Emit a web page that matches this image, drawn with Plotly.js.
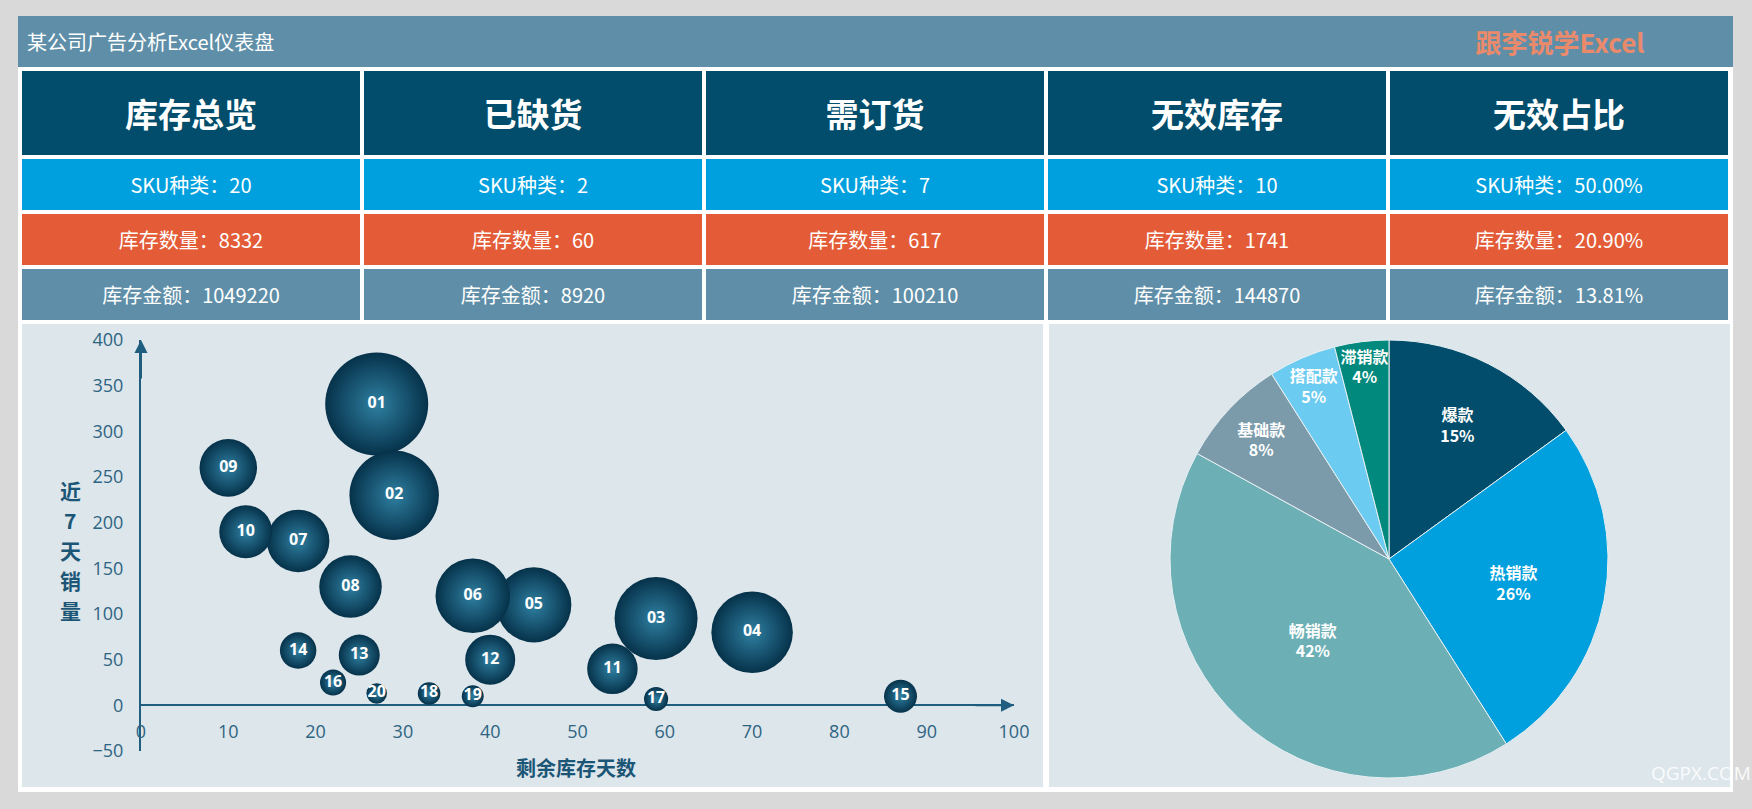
<!DOCTYPE html>
<html><head><meta charset="utf-8">
<script src="https://cdn.plot.ly/plotly-3.0.1.min.js"></script>
<style>
html,body{margin:0;padding:0;}
body{width:1752px;height:809px;background:#d9d9d9;position:relative;overflow:hidden;font-family:"Noto Sans CJK SC","Noto Sans",sans-serif;}
.abs{position:absolute;}
.cell{position:absolute;display:flex;align-items:center;justify-content:center;color:#fff;white-space:nowrap;}
</style></head>
<body>
<div class="abs" style="left:18px;top:16px;width:1715px;height:776px;background:#fff;"></div>
<div class="abs" style="left:18px;top:16px;width:1715px;height:51px;background:#5f8fa8;"></div>
<div class="abs" id="titleL" style="left:27px;top:16px;height:51px;line-height:51px;color:#fff;font-size:20px;"></div>
<div class="abs" id="titleR" style="left:1450px;width:220px;top:16px;height:51px;line-height:51px;color:#ea8a6b;font-size:26px;font-weight:bold;text-align:center;"></div>
<div id="cards"></div>
<div class="abs" id="bubble" style="left:22px;top:324px;width:1021px;height:463px;"></div>
<div class="abs" id="pie" style="left:1049px;top:324px;width:681px;height:463px;"></div>
<div class="abs" id="wm" style="left:1651px;top:760px;color:rgba(255,255,255,0.9);font-family:'Open Sans',sans-serif;font-size:19px;"></div>
<script>
// ---- text data ----
var dashTitle = '某公司广告分析Excel仪表盘';
var brandText = '跟李锐学Excel';
var watermark = 'QGPX.COM';
var cardTitles = ['库存总览','已缺货','需订货','无效库存','无效占比'];
var skuLabel = 'SKU种类：';
var qtyLabel = '库存数量：';
var amtLabel = '库存金额：';
var skuValues = ['20','2','7','10','50.00%'];
var qtyValues = ['8332','60','617','1741','20.90%'];
var amtValues = ['1049220','8920','100210','144870','13.81%'];

// ---- bubble data ----
var skuIds   = ['01','02','03','04','05','06','07','08','09','10','11','12','13','14','15','16','17','18','19','20'];
var daysLeft = [27,29,59,70,45,38,18,24,10,12,54,40,25,18,87,22,59,33,38,27];
var sales7d  = [330,230,95,80,110,120,180,130,260,190,40,50,55,60,10,25,7,13,10,13];
var stockVal = [1061,801,689,664,563,555,391,391,331,281,255,250,168,133,109,68,58,51,48,42];
var xTicks = [0,10,20,30,40,50,60,70,80,90,100];
var yTicks = [-50,0,50,100,150,200,250,300,350,400];
var xTitle = '剩余库存天数';
var yTitleChars = ['近','7','天','销','量'];

// ---- pie data ----
var pieLabels = ['爆款','热销款','畅销款','基础款','搭配款','滞销款'];
var pieValues = [15,26,42,8,5,4];
var pieColors = ['#014d6b','#009fdd','#6cb0b6','#7b9bab','#6ccbf0','#00897c'];

document.getElementById('titleL').textContent = dashTitle;
document.getElementById('titleR').textContent = brandText;
document.getElementById('wm').textContent = watermark;

var rows = [
  {top:71,h:84,bg:'#014d6b',fs:33,bold:true,texts:cardTitles},
  {top:159,h:51,bg:'#00a0de',fs:20,bold:false,texts:skuValues.map(function(v){return skuLabel+v;})},
  {top:214,h:51,bg:'#e35c37',fs:20,bold:false,texts:qtyValues.map(function(v){return qtyLabel+v;})},
  {top:269,h:51,bg:'#5f8fa8',fs:20,bold:false,texts:amtValues.map(function(v){return amtLabel+v;})}
];
var cards = document.getElementById('cards');
rows.forEach(function(r){
  r.texts.forEach(function(t,i){
    var d = document.createElement('div');
    d.className='cell';
    d.style.left=(22+i*342)+'px'; d.style.top=r.top+'px';
    d.style.width='338px'; d.style.height=r.h+'px';
    d.style.background=r.bg; d.style.fontSize=r.fs+'px';
    d.style.fontWeight=r.bold?'bold':'normal';
    d.textContent=t;
    cards.appendChild(d);
  });
});

var axisCol = '#1f5e7e';
var tickCol = '#2e6482';
var titleCol = '#1c5676';

var annotations = [
  {x:0,y:400,xref:'x',yref:'y',ax:0,ay:40,showarrow:true,arrowhead:2,arrowsize:1.3,arrowwidth:2,arrowcolor:axisCol,text:''},
  {x:100,y:0,xref:'x',yref:'y',ax:-40,ay:0,showarrow:true,arrowhead:2,arrowsize:1.3,arrowwidth:2,arrowcolor:axisCol,text:''},
  {x:0.498,y:-0.041,xref:'paper',yref:'paper',xanchor:'center',yanchor:'middle',showarrow:false,text:'<b>'+xTitle+'</b>',font:{family:'Noto Sans CJK SC',size:20,color:titleCol}}
];
yTitleChars.forEach(function(c,i){
  annotations.push({x:-0.0813,y:0.489,yshift:(2-i)*30,xref:'paper',yref:'paper',xanchor:'center',yanchor:'middle',showarrow:false,
    text:'<b>'+c+'</b>',font:{family:'Noto Sans CJK SC',size:21,color:titleCol}});
});

Plotly.newPlot('bubble',[{
  type:'scatter',mode:'markers+text',x:daysLeft,y:sales7d,text:skuIds,
  textposition:'middle center',cliponaxis:false,
  textfont:{family:'Open Sans',size:16,color:'#ffffff',weight:'bold'},
  marker:{size:stockVal,sizemode:'area',sizeref:0.2,color:'#06324a',
    gradient:{type:'radial',color:'#2f80a2'},line:{width:0},opacity:1},
  hoverinfo:'none'
}],{
  width:1021,height:463,margin:{l:119,r:29,t:16,b:36},
  paper_bgcolor:'#dce6eb',plot_bgcolor:'rgba(0,0,0,0)',showlegend:false,
  xaxis:{range:[0,100],anchor:'free',position:50/450,tickvals:xTicks,ticks:'',showgrid:false,zeroline:false,showline:false,
    ticklabelstandoff:14,tickfont:{family:'Open Sans',size:18,color:tickCol}},
  yaxis:{range:[-50,400],tickvals:yTicks,ticks:'',showgrid:false,zeroline:true,zerolinecolor:axisCol,zerolinewidth:2,
    showline:true,linecolor:axisCol,linewidth:2,ticklabelstandoff:12,tickfont:{family:'Open Sans',size:18,color:tickCol}},
  annotations:annotations
},{staticPlot:true});

Plotly.newPlot('pie',[{
  type:'pie',labels:pieLabels,values:pieValues,sort:false,direction:'clockwise',rotation:0,
  marker:{colors:pieColors,line:{color:'#e8f0f3',width:1}},
  textinfo:'label+percent',textposition:'inside',insidetextorientation:'horizontal',
  textfont:{family:'Noto Sans CJK SC',size:16,color:'#ffffff',weight:'bold'},
  domain:{x:[121/681,559/681],y:[9/463,447/463]},hoverinfo:'none'
}],{
  width:681,height:463,margin:{l:0,r:0,t:0,b:0},paper_bgcolor:'#dce6eb',showlegend:false,
  uniformtext:{minsize:16,mode:'show'}
},{staticPlot:true});
</script>
</body></html>
